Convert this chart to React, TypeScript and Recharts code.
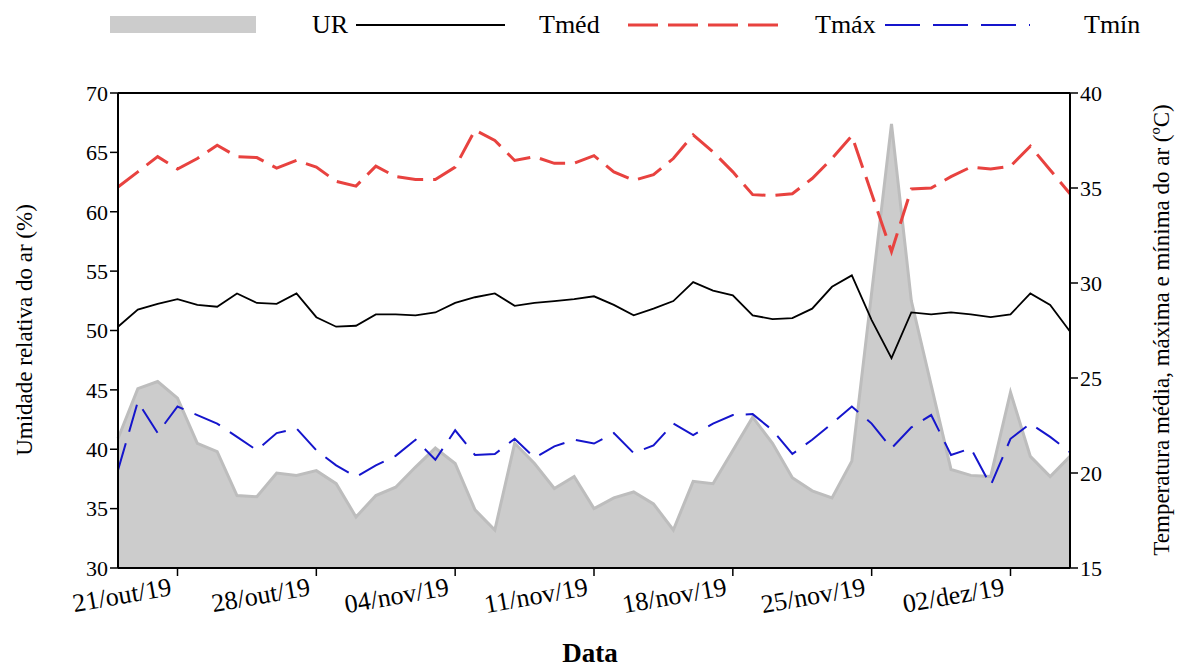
import React from "react";
import { ComposedChart, Area, Line, XAxis, YAxis, ReferenceLine } from "recharts";

const dates = [
  "18/out/19", "19/out/19", "20/out/19", "21/out/19", "22/out/19", "23/out/19", "24/out/19",
  "25/out/19", "26/out/19", "27/out/19", "28/out/19", "29/out/19", "30/out/19", "31/out/19",
  "01/nov/19", "02/nov/19", "03/nov/19", "04/nov/19", "05/nov/19", "06/nov/19", "07/nov/19",
  "08/nov/19", "09/nov/19", "10/nov/19", "11/nov/19", "12/nov/19", "13/nov/19", "14/nov/19",
  "15/nov/19", "16/nov/19", "17/nov/19", "18/nov/19", "19/nov/19", "20/nov/19", "21/nov/19",
  "22/nov/19", "23/nov/19", "24/nov/19", "25/nov/19", "26/nov/19", "27/nov/19", "28/nov/19",
  "29/nov/19", "30/nov/19", "01/dez/19", "02/dez/19", "03/dez/19", "04/dez/19", "05/dez/19",
];

// umidade relativa (%)
const ur = [
  40.9, 45.1, 45.7, 44.3, 40.5, 39.8, 36.1, 36.0, 38.0, 37.8,
  38.2, 37.1, 34.3, 36.1, 36.8, 38.5, 40.1, 38.8, 34.9, 33.2,
  40.5, 38.8, 36.7, 37.7, 35.0, 35.9, 36.4, 35.4, 33.2, 37.3,
  37.1, 39.9, 42.7, 40.5, 37.6, 36.5, 35.9, 39.0, 53.2, 67.4,
  52.5, 45.4, 38.3, 37.8, 37.7, 44.8, 39.4, 37.7, 39.4,
];

// temperatura média (ºC)
const tmed = [
  27.7, 28.6, 28.9, 29.15, 28.85, 28.75, 29.45, 28.95, 28.9, 29.45,
  28.2, 27.7, 27.75, 28.35, 28.35, 28.3, 28.45, 28.95, 29.25, 29.45,
  28.8, 28.95, 29.05, 29.15, 29.3, 28.85, 28.3, 28.65, 29.05, 30.05,
  29.6, 29.35, 28.3, 28.1, 28.15, 28.65, 29.8, 30.4, 28.05, 26.05,
  28.45, 28.35, 28.45, 28.35, 28.2, 28.35, 29.45, 28.85, 27.45,
];

// temperatura máxima (ºC)
const tmax = [
  35.05, 35.85, 36.65, 36.0, 36.55, 37.25, 36.65, 36.6, 36.05, 36.45,
  36.1, 35.35, 35.1, 36.15, 35.6, 35.45, 35.45, 36.1, 38.05, 37.5,
  36.45, 36.65, 36.3, 36.3, 36.7, 35.85, 35.4, 35.7, 36.55, 37.8,
  36.9, 35.85, 34.65, 34.6, 34.7, 35.5, 36.55, 37.75, 34.7, 31.65,
  34.95, 35.0, 35.6, 36.1, 36.0, 36.15, 37.2, 35.95, 34.7,
];

// temperatura mínima (ºC)
const tmin = [
  20.15, 23.75, 22.1, 23.5, 23.05, 22.6, 21.9, 21.2, 22.1, 22.35,
  21.2, 20.4, 19.8, 20.4, 20.9, 21.75, 20.7, 22.25, 20.95, 21.0,
  21.8, 20.8, 21.4, 21.75, 21.55, 22.1, 21.05, 21.45, 22.6, 22.0,
  22.6, 23.05, 23.1, 22.25, 21.0, 21.75, 22.6, 23.5, 22.6, 21.3,
  22.4, 23.05, 20.95, 21.3, 19.35, 21.8, 22.6, 21.9, 21.1,
];

const tickDays = [3, 10, 17, 24, 31, 38, 45];
const tickLabels = ["21/out/19", "28/out/19", "04/nov/19", "11/nov/19", "18/nov/19", "25/nov/19", "02/dez/19"];
const urTicks = [30, 35, 40, 45, 50, 55, 60, 65, 70];
const tempTicks = [15, 20, 25, 30, 35, 40];

const serif = "Times New Roman, Liberation Serif, Tinos, DejaVu Serif, Noto Serif, serif";

const data = dates.map((d, i) => ({
  day: i,
  date: d,
  ur: ur[i],
  tmed: tmed[i],
  tmax: tmax[i],
  tmin: tmin[i],
}));

const DateTick = (props: any) => {
  const { x, y, payload } = props;
  const idx = tickDays.indexOf(payload.value);
  const tx = x - 5;
  const ty = y + 17;
  return (
    <text
      x={tx}
      y={ty}
      transform={`rotate(-10 ${tx} ${ty})`}
      textAnchor="end"
      fontFamily={serif}
      fontSize={26}
      fill="#000"
    >
      {tickLabels[idx]}
    </text>
  );
};

function LegendBar() {
  return (
    <svg width={1183} height={50} style={{ position: "absolute", left: 0, top: 0 }}>
      <rect x={110} y={16} width={146} height={17} fill="#cccccc" />
      <text x={312} y={33} fontFamily={serif} fontSize={26} fill="#000">UR</text>
      <line x1={356} y1={25} x2={505} y2={25} stroke="#000" strokeWidth={2} />
      <text x={539} y={33} fontFamily={serif} fontSize={26} fill="#000">Tméd</text>
      <line x1={628} y1={25} x2={780} y2={25} stroke="#e8423f" strokeWidth={3} strokeDasharray="30 10" />
      <text x={815} y={33} fontFamily={serif} fontSize={26} fill="#000">Tmáx</text>
      <line x1={885} y1={25} x2={1030} y2={25} stroke="#1515cc" strokeWidth={2} strokeDasharray="35 13" />
      <text x={1084} y={33} fontFamily={serif} fontSize={26} fill="#000">Tmín</text>
    </svg>
  );
}

export default function App() {
  return (
    <div style={{ position: "absolute", left: 0, top: 0, width: 1183, height: 666, background: "#fff" }}>
      <LegendBar />
      <div style={{ position: "absolute", left: 0, top: 0 }}>
        <ComposedChart
          width={1183}
          height={666}
          data={data}
          margin={{ top: 93, right: 53, bottom: 38, left: 58 }}
        >
          <XAxis
            dataKey="day"
            type="number"
            domain={[0, 48]}
            ticks={tickDays}
            tick={<DateTick />}
            tickSize={8}
            height={60}
            axisLine={{ stroke: "#000", strokeWidth: 2 }}
            tickLine={{ stroke: "#000", strokeWidth: 1.5 }}
            interval={0}
          />
          <YAxis
            yAxisId="left"
            orientation="left"
            domain={[30, 70]}
            ticks={urTicks}
            width={60}
            tickSize={8}
            axisLine={{ stroke: "#000", strokeWidth: 2 }}
            tickLine={{ stroke: "#000", strokeWidth: 1.5 }}
            tick={{ fill: "#000", fontFamily: serif, fontSize: 22 }}
            interval={0}
          />
          <YAxis
            yAxisId="right"
            orientation="right"
            domain={[15, 40]}
            ticks={tempTicks}
            width={60}
            tickSize={8}
            axisLine={{ stroke: "#000", strokeWidth: 2 }}
            tickLine={{ stroke: "#000", strokeWidth: 1.5 }}
            tick={{ fill: "#000", fontFamily: serif, fontSize: 22, textAnchor: "start" }}
            interval={0}
          />
          <ReferenceLine yAxisId="left" y={70} stroke="#000" strokeWidth={2} />
          <Area
            yAxisId="left"
            dataKey="ur"
            type="linear"
            baseValue={30}
            stroke="#bdbdbd"
            strokeWidth={3}
            fill="#cccccc"
            fillOpacity={1}
            dot={false}
            activeDot={false}
            isAnimationActive={false}
          />
          <Line
            yAxisId="right"
            dataKey="tmed"
            type="linear"
            stroke="#000"
            strokeWidth={1.8}
            dot={false}
            activeDot={false}
            isAnimationActive={false}
          />
          <Line
            yAxisId="right"
            dataKey="tmax"
            type="linear"
            stroke="#e8423f"
            strokeWidth={3}
            strokeDasharray="26 10"
            dot={false}
            activeDot={false}
            isAnimationActive={false}
          />
          <Line
            yAxisId="right"
            dataKey="tmin"
            type="linear"
            stroke="#1515cc"
            strokeWidth={2}
            strokeDasharray="28 12"
            dot={false}
            activeDot={false}
            isAnimationActive={false}
          />
        </ComposedChart>
      </div>
      <div
        style={{
          position: "absolute",
          left: 25,
          top: 330,
          transform: "translate(-50%, -50%) rotate(-90deg)",
          whiteSpace: "nowrap",
          fontFamily: serif,
          fontSize: 23,
          color: "#000",
        }}
      >
        Umidade relativa do ar (%)
      </div>
      <div
        style={{
          position: "absolute",
          left: 1162,
          top: 330,
          transform: "translate(-50%, -50%) rotate(-90deg)",
          whiteSpace: "nowrap",
          fontFamily: serif,
          fontSize: 23,
          color: "#000",
        }}
      >
        Temperatura média, máxima e mínima do ar (ºC)
      </div>
      <div
        style={{
          position: "absolute",
          left: 590,
          top: 653,
          transform: "translate(-50%, -50%)",
          whiteSpace: "nowrap",
          fontFamily: serif,
          fontSize: 27,
          fontWeight: "bold",
          color: "#000",
        }}
      >
        Data
      </div>
    </div>
  );
}
